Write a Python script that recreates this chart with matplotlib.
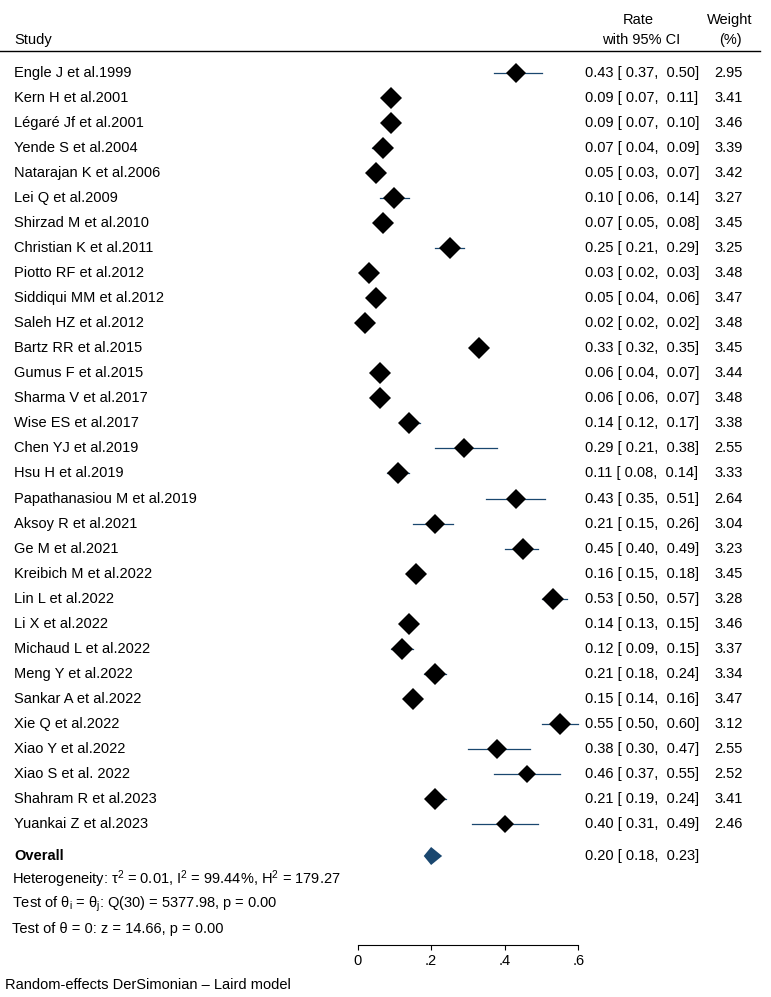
import numpy as np
import matplotlib
matplotlib.use('Agg')
import matplotlib.pyplot as plt
from matplotlib.lines import Line2D
from matplotlib.patches import Polygon
import matplotlib.transforms as mtransforms

plt.rcParams['font.family'] = ['Liberation Sans', 'DejaVu Sans']
plt.rcParams['mathtext.fontset'] = 'custom'
plt.rcParams['mathtext.rm'] = 'Liberation Sans'
plt.rcParams['mathtext.it'] = 'Liberation Sans:italic'

# --------------------------------------------------
# DATOS
# --------------------------------------------------
studies = [
    "Engle J et al.1999", "Kern H et al.2001", "Légaré Jf et al.2001",
    "Yende S et al.2004", "Natarajan K et al.2006", "Lei Q et al.2009",
    "Shirzad M et al.2010", "Christian K et al.2011", "Piotto RF et al.2012",
    "Siddiqui MM et al.2012", "Saleh HZ et al.2012", "Bartz RR et al.2015",
    "Gumus F et al.2015", "Sharma V et al.2017", "Wise ES et al.2017",
    "Chen YJ et al.2019", "Hsu H et al.2019", "Papathanasiou M et al.2019",
    "Aksoy R et al.2021", "Ge M et al.2021", "Kreibich M et al.2022",
    "Lin L et al.2022", "Li X et al.2022", "Michaud L et al.2022",
    "Meng Y et al.2022", "Sankar A et al.2022", "Xie Q et al.2022",
    "Xiao Y et al.2022", "Xiao S et al. 2022", "Shahram R et al.2023",
    "Yuankai Z et al.2023",
]
rates = [0.43, 0.09, 0.09, 0.07, 0.05, 0.10, 0.07, 0.25, 0.03, 0.05, 0.02,
         0.33, 0.06, 0.06, 0.14, 0.29, 0.11, 0.43, 0.21, 0.45, 0.16, 0.53,
         0.14, 0.12, 0.21, 0.15, 0.55, 0.38, 0.46, 0.21, 0.40]
lower = [0.37, 0.07, 0.07, 0.04, 0.03, 0.06, 0.05, 0.21, 0.02, 0.04, 0.02,
         0.32, 0.04, 0.06, 0.12, 0.21, 0.08, 0.35, 0.15, 0.40, 0.15, 0.50,
         0.13, 0.09, 0.18, 0.14, 0.50, 0.30, 0.37, 0.19, 0.31]
upper = [0.50, 0.11, 0.10, 0.09, 0.07, 0.14, 0.08, 0.29, 0.03, 0.06, 0.02,
         0.35, 0.07, 0.07, 0.17, 0.38, 0.14, 0.51, 0.26, 0.49, 0.18, 0.57,
         0.15, 0.15, 0.24, 0.16, 0.60, 0.47, 0.55, 0.24, 0.49]
weights = [2.95, 3.41, 3.46, 3.39, 3.42, 3.27, 3.45, 3.25, 3.48, 3.47, 3.48,
           3.45, 3.44, 3.48, 3.38, 2.55, 3.33, 2.64, 3.04, 3.23, 3.45, 3.28,
           3.46, 3.37, 3.34, 3.47, 3.12, 2.55, 2.52, 3.41, 2.46]
overall = (0.20, 0.18, 0.23)
xticks = [0, 0.2, 0.4, 0.6]
xticklabels = ["0", ".2", ".4", ".6"]

# --------------------------------------------------
# LAYOUT (en píxeles de la figura 771x997)
# --------------------------------------------------
W, H = 771, 997
FS = 10.5
NAVY = '#1a476f'
ROW0, DY = 73, 25.03          # centro de la primera fila y separación
TOP, BOT = 51, 945            # línea de cabecera y eje x
X0, X1 = 357.5, 578.3         # 0 y 0.6 en píxeles

def fx(px):
    return px / W

fig = plt.figure(figsize=(W / 100, H / 100), dpi=100)
ax = fig.add_axes([fx(X0), 1 - BOT / H, (X1 - X0) / W, (BOT - TOP) / H])
ax.set_xlim(0, 0.6)
ax.set_ylim((BOT - ROW0) / DY, (TOP - ROW0) / DY)

for s in ['left', 'top', 'right']:
    ax.spines[s].set_visible(False)
ax.spines['bottom'].set_bounds(0, 0.6)
ax.spines['bottom'].set_linewidth(0.8)
ax.set_yticks([])
ax.set_xticks(xticks)
ax.set_xticklabels(xticklabels)
ax.tick_params(axis='x', labelsize=FS, length=3.5, width=0.8, pad=3)

# -- Estudios --
for i in range(len(studies)):
    ax.plot([lower[i], upper[i]], [i, i], color=NAVY, lw=0.9, zorder=2,
            clip_on=False)
    diag = 22 * np.sqrt(weights[i] / 3.41)
    ax.plot(rates[i], i, marker='D', color='black',
            markersize=diag * 0.72 / 1.414, markeredgewidth=0, zorder=3,
            clip_on=False)

# -- Overall --
y_ov = (856 - ROW0) / DY
hh = 9 / DY
ax.add_patch(Polygon([[overall[1], y_ov], [overall[0], y_ov - hh],
                      [overall[2], y_ov], [overall[0], y_ov + hh]],
                     closed=True, fc=NAVY, ec='none', zorder=3))

# -- Textos --
tr = mtransforms.blended_transform_factory(fig.transFigure, ax.transData)

def row_y(px):
    return (px - ROW0) / DY

for i in range(len(studies)):
    ax.text(fx(14), i, studies[i], transform=tr, fontsize=FS,
            va='center', ha='left')
    ax.text(fx(585), i, f"{rates[i]:.2f} [ {lower[i]:.2f},  {upper[i]:.2f}]",
            transform=tr, fontsize=FS, va='center', ha='left')
    ax.text(fx(743), i, f"{weights[i]:.2f}", transform=tr, fontsize=FS,
            va='center', ha='right')

ax.text(fx(14), y_ov, "Overall", transform=tr, fontsize=FS,
        fontweight='bold', va='center', ha='left')
ax.text(fx(585), y_ov, f"{overall[0]:.2f} [ {overall[1]:.2f},  {overall[2]:.2f}]",
        transform=tr, fontsize=FS, va='center', ha='left')

ax.text(fx(12), row_y(879),
        "Heterogeneity: τ$^2$ = 0.01, I$^2$ = 99.44%, H$^2$ = 179.27",
        transform=tr, fontsize=FS, va='center', ha='left')
ax.text(fx(12), row_y(904),
        "Test of θ$_\\mathrm{i}$ = θ$_\\mathrm{j}$: Q(30) = 5377.98, p = 0.00",
        transform=tr, fontsize=FS, va='center', ha='left')
ax.text(fx(12), row_y(929), "Test of θ = 0: z = 14.66, p = 0.00",
        transform=tr, fontsize=FS, va='center', ha='left')

# -- Cabecera --
fig.text(fx(14), 1 - 40 / H, "Study", fontsize=FS, va='center', ha='left')
fig.text(fx(638), 1 - 20 / H, "Rate", fontsize=FS, va='center', ha='center')
fig.text(fx(641), 1 - 40 / H, "with 95% CI", fontsize=FS, va='center', ha='center')
fig.text(fx(730), 1 - 20 / H, "Weight", fontsize=FS, va='center', ha='center')
fig.text(fx(730), 1 - 40 / H, "(%)", fontsize=FS, va='center', ha='center')
fig.add_artist(Line2D([0, fx(760)], [1 - TOP / H, 1 - TOP / H],
                      transform=fig.transFigure, color='black', lw=1.0))

fig.text(fx(5), 1 - 985 / H, "Random-effects DerSimonian \u2013 Laird model",
         fontsize=FS, va='center', ha='left')

fig.savefig("out.png", dpi=100)
